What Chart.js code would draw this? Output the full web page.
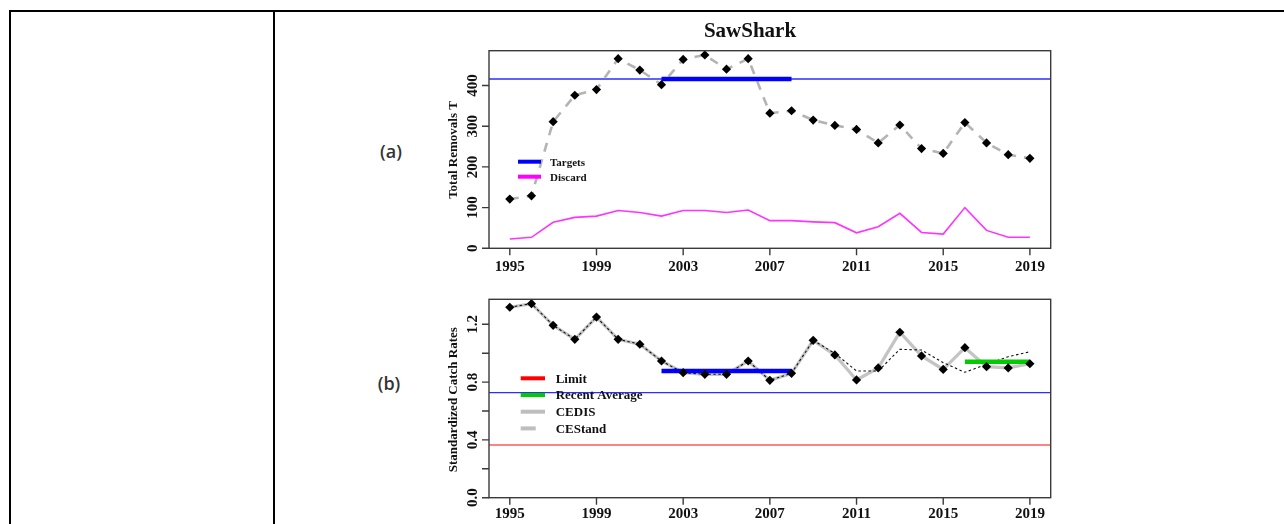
<!DOCTYPE html>
<html>
<head>
<meta charset="utf-8">
<script src="https://cdn.jsdelivr.net/npm/chart.js@4.4.1/dist/chart.umd.min.js"></script>
<style>
  html, body { margin: 0; padding: 0; background: #fff; }
  body { width: 1284px; height: 524px; position: relative; overflow: hidden; }
  .rule { position: absolute; background: #000; }
  .tag { position: absolute; font-family: 'Open Sans', sans-serif; font-weight: 600;
         font-size: 18px; color: #333; transform: translate(-50%, -50%); }
  canvas { position: absolute; }
</style>
</head>
<body>
<div class="rule" style="left:9px;top:10px;width:1275px;height:2px"></div>
<div class="rule" style="left:9px;top:10px;width:2px;height:514px"></div>
<div class="rule" style="left:273px;top:10px;width:2px;height:514px"></div>
<div class="tag" style="left:391px;top:151px">(a)</div>
<div class="tag" style="left:389px;top:383px">(b)</div>
<canvas id="panelA" width="660" height="270" style="left:420px;top:14px"></canvas>
<canvas id="panelB" width="660" height="239" style="left:420px;top:285px"></canvas>
<script>
// ---- data ----
const years = [1995,1996,1997,1998,1999,2000,2001,2002,2003,2004,2005,2006,2007,
               2008,2009,2010,2011,2012,2013,2014,2015,2016,2017,2018,2019];
const totalRemovals = [121,129,311,376,390,466,438,402,464,475,440,466,332,
                       338,315,302,292,259,303,245,233,309,259,230,221];
const discards = [23,27,64,76,79,93,88,79,93,93,88,94,68,
                  68,65,63,38,53,86,39,35,100,44,27,27];
const cedis = [1.318,1.343,1.193,1.096,1.250,1.096,1.062,0.946,0.865,0.854,0.854,0.946,0.812,
               0.861,1.089,0.988,0.815,0.898,1.145,0.981,0.888,1.038,0.907,0.898,0.927];
const cestand = [1.318,1.343,1.193,1.096,1.250,1.096,1.062,0.946,0.865,0.854,0.854,0.946,0.812,
                 0.861,1.089,0.999,0.877,0.877,1.027,1.022,0.934,0.868,0.923,0.976,1.010];
const catchTarget = 416;          // reference level, total removals
const targetYears = [2002, 2008];
const cpueTarget = 0.877;         // mean catch rate over target years
const cpueTrigger = 0.727;
const cpueLimit = 0.365;
const recentYears = [2016, 2019];
const recentAverage = 0.941;
const xTickLabels = [1995,1999,2003,2007,2011,2015,2019];
const yTicksA = [0,100,200,300,400];
const yTicksB = [0,0.2,0.4,0.6,0.8,1.0,1.2];
const yLabelsB = ['0.0','','0.4','','0.8','','1.2'];
const xRange = [1994.04, 2019.96];

const SERIF = "'Liberation Serif', 'Times New Roman', serif";
const pts = (vals) => years.map((y, i) => ({ x: y, y: vals[i] }));
const seg = (xs, v) => [{ x: xs[0], y: v }, { x: xs[1], y: v }];

// draws R-style box, ticks, tick labels, axis title and legend
function baseFramePlugin(cfg) {
  return {
    id: 'frame',
    afterDatasetsDraw(chart) {
      const { ctx, chartArea: a, scales: { x, y } } = chart;
      ctx.save();
      ctx.strokeStyle = '#3a3a3a';
      ctx.lineWidth = 1.4;
      ctx.strokeRect(a.left, a.top, a.right - a.left, a.bottom - a.top);
      ctx.fillStyle = '#111';
      ctx.font = 'bold 15px ' + SERIF;
      ctx.textAlign = 'center';
      ctx.textBaseline = 'middle';
      ctx.beginPath();
      xTickLabels.forEach(t => {
        const px = x.getPixelForValue(t);
        ctx.moveTo(px, a.bottom); ctx.lineTo(px, a.bottom + 7);
      });
      cfg.yTicks.forEach(t => {
        const py = y.getPixelForValue(t);
        ctx.moveTo(a.left, py); ctx.lineTo(a.left - 7, py);
      });
      ctx.stroke();
      xTickLabels.forEach(t => {
        ctx.fillText(String(t), x.getPixelForValue(t), a.bottom + cfg.xLabelGap);
      });
      cfg.yTicks.forEach((t, i) => {
        const lab = cfg.yLabels[i];
        if (!lab) return;
        ctx.save();
        ctx.translate(a.left - 16, y.getPixelForValue(t));
        ctx.rotate(-Math.PI / 2);
        ctx.fillText(lab, 0, 0);
        ctx.restore();
      });
      // axis title
      ctx.save();
      ctx.font = 'bold 13px ' + SERIF;
      ctx.translate(a.left - 35, cfg.titleY);
      ctx.rotate(-Math.PI / 2);
      ctx.fillText(cfg.yTitle, 0, 0);
      ctx.restore();
      // chart title
      if (cfg.title) {
        ctx.font = 'bold 21px ' + SERIF;
        ctx.fillText(cfg.title, a.left + 261, a.top - 19);
      }
      // legend
      ctx.textAlign = 'left';
      ctx.font = 'bold ' + cfg.legend.size + 'px ' + SERIF;
      cfg.legend.items.forEach((it, i) => {
        const ly = a.top + cfg.legend.top + i * cfg.legend.step;
        const lx = a.left + cfg.legend.left;
        ctx.save();
        ctx.strokeStyle = it.color;
        ctx.lineWidth = it.width;
        ctx.setLineDash(it.dash || []);
        ctx.beginPath();
        ctx.moveTo(lx, ly); ctx.lineTo(lx + cfg.legend.len, ly);
        ctx.stroke();
        ctx.restore();
        ctx.fillStyle = '#111';
        ctx.fillText(it.text, lx + cfg.legend.len + cfg.legend.gap, ly + 1);
      });
      ctx.restore();
    }
  };
}

const commonOptions = (pad, yMax) => ({
  responsive: false,
  animation: false,
  devicePixelRatio: 1,
  layout: { padding: pad },
  plugins: { legend: { display: false }, tooltip: { enabled: false } },
  elements: { line: { tension: 0 } },
  scales: {
    x: { type: 'linear', min: xRange[0], max: xRange[1], display: false },
    y: { type: 'linear', min: 0, max: yMax, display: false }
  }
});

const diamond = { pointStyle: 'rectRot', pointRadius: 4.6, pointBackgroundColor: '#000',
                  pointBorderWidth: 0, showLine: false };

// panel (a): total removals
new Chart(document.getElementById('panelA'), {
  type: 'scatter',
  data: {
    datasets: [
      { data: pts(totalRemovals), ...diamond },
      { data: seg(targetYears, catchTarget), showLine: true, borderColor: '#0000ff',
        borderWidth: 4.5, pointRadius: 0 },
      { data: pts(totalRemovals), showLine: true, borderColor: '#b4b4b4', borderWidth: 2.6,
        borderDash: [9, 8], pointRadius: 0 },
      { data: pts(discards), showLine: true, borderColor: '#ff33ff', borderWidth: 1.6, pointRadius: 0 },
      { data: seg(xRange, catchTarget), showLine: true, borderColor: '#2d2dff', borderWidth: 1.3, pointRadius: 0 }
    ]
  },
  options: commonOptions({ left: 69, top: 36.7, right: 29.3, bottom: 35.7 }, 485.5),
  plugins: [baseFramePlugin({
    yTicks: yTicksA, yLabels: yTicksA.map(String), xLabelGap: 18.5,
    yTitle: 'Total Removals T', titleY: 136, title: 'SawShark',
    legend: { left: 29, top: 111, step: 15, len: 23, gap: 9, size: 11,
      items: [
        { text: 'Targets', color: '#0000ff', width: 4 },
        { text: 'Discard', color: '#ff00ff', width: 4 }
      ] }
  })]
});

// panel (b): standardized catch rates
new Chart(document.getElementById('panelB'), {
  type: 'scatter',
  data: {
    datasets: [
      { data: pts(cedis), ...diamond },
      { data: seg(recentYears, recentAverage), showLine: true, borderColor: '#00cc00',
        borderWidth: 4.5, pointRadius: 0 },
      { data: seg(targetYears, cpueTarget), showLine: true, borderColor: '#0000ff',
        borderWidth: 4.5, pointRadius: 0 },
      { data: pts(cestand), showLine: true, borderColor: '#111', borderWidth: 1.1,
        borderDash: [2.5, 2.5], pointRadius: 0 },
      { data: pts(cedis), showLine: true, borderColor: '#c4c4c4', borderWidth: 3.2, pointRadius: 0 },
      { data: seg(xRange, cpueTrigger), showLine: true, borderColor: '#2d2dff', borderWidth: 1.3, pointRadius: 0 },
      { data: seg(xRange, cpueLimit), showLine: true, borderColor: '#ff5a5a', borderWidth: 1.6, pointRadius: 0 }
    ]
  },
  options: commonOptions({ left: 69, top: 14.3, right: 29.3, bottom: 26.3 }, 1.373),
  plugins: [baseFramePlugin({
    yTicks: yTicksB, yLabels: yLabelsB, xLabelGap: 16.5,
    yTitle: 'Standardized Catch Rates', titleY: 114.7, title: null,
    legend: { left: 31.7, top: 79, step: 16.7, len: 24.3, gap: 10.7, size: 13,
      items: [
        { text: 'Limit', color: '#ff0000', width: 4 },
        { text: 'Recent Average', color: '#00cc00', width: 4 },
        { text: 'CEDIS', color: '#bebebe', width: 4 },
        { text: 'CEStand', color: '#bebebe', width: 4, dash: [15, 12] }
      ] }
  })]
});
</script>
</body>
</html>
